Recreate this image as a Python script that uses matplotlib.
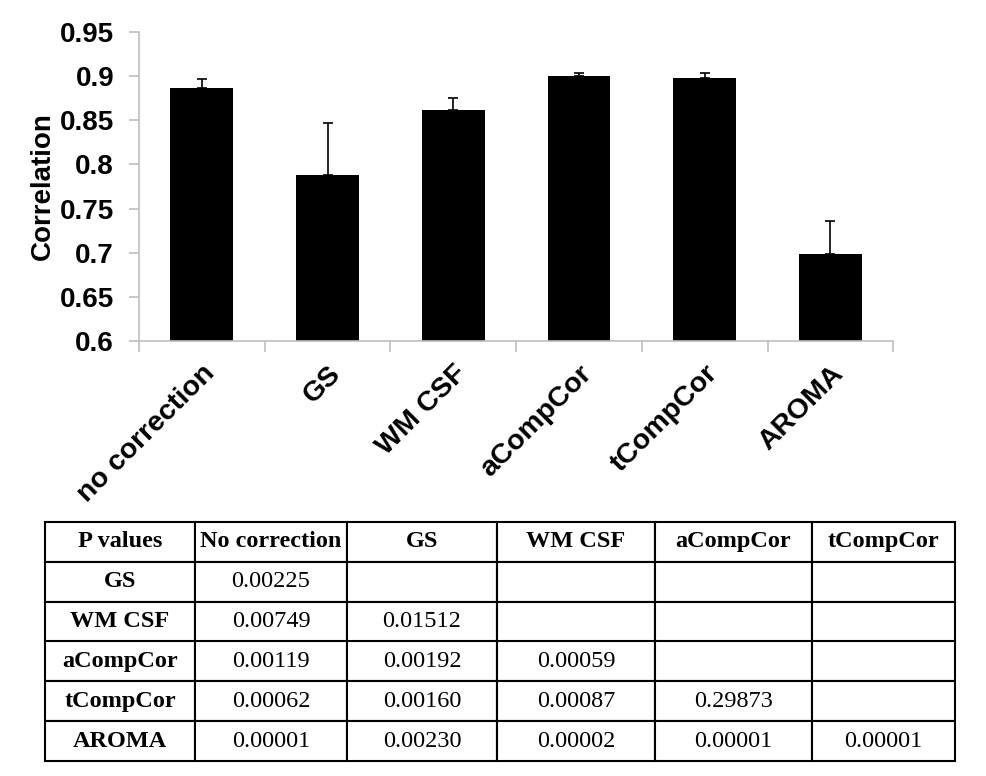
import matplotlib
matplotlib.use('Agg')
import matplotlib.pyplot as plt
import numpy as np

# Mean correlation for each denoising strategy
methods = ["no correction", "GS", "WM CSF", "aCompCor", "tCompCor", "AROMA"]
correlation = [0.8865, 0.7885, 0.862, 0.9005, 0.898, 0.699]
error_up = [0.0098, 0.0585, 0.0128, 0.003, 0.0052, 0.0368]

# P value table
col_labels = ["P values", "No correction", "GS", "WM CSF", "aCompCor", "tCompCor"]
row_labels = ["GS", "WM CSF", "aCompCor", "tCompCor", "AROMA"]
p_values = [
    ["0.00225", "", "", "", ""],
    ["0.00749", "0.01512", "", "", ""],
    ["0.00119", "0.00192", "0.00059", "", ""],
    ["0.00062", "0.00160", "0.00087", "0.29873", ""],
    ["0.00001", "0.00230", "0.00002", "0.00001", "0.00001"],
]

plt.rcParams['font.family'] = ['Liberation Sans', 'DejaVu Sans']

fig = plt.figure(figsize=(9.86, 7.76), dpi=100)
ax = fig.add_axes([0.141, 0.5606, 0.765, 0.3982])

x = np.arange(len(methods))
ax.bar(x, correlation, width=0.5, color='black', zorder=2)
ax.errorbar(x, correlation, yerr=[np.zeros(len(x)), error_up], fmt='none',
            ecolor='black', elinewidth=1.2, capsize=3.6, capthick=1.2, zorder=3)

ax.set_ylim(0.6, 0.95)
ax.set_xlim(-0.5, len(methods) - 0.5)
ax.set_yticks(np.arange(0.6, 0.951, 0.05))
ax.set_yticklabels(["0.6", "0.65", "0.7", "0.75", "0.8", "0.85", "0.9", "0.95"],
                   fontsize=20, fontweight='bold')
ax.set_ylabel("Correlation", fontsize=20, fontweight='bold', labelpad=3)

ax.set_xticks(x)
ax.set_xticklabels(methods, rotation=45, ha='right', rotation_mode='anchor',
                   fontsize=20.5, fontweight='bold')
ax.set_xticks(np.arange(-0.5, len(methods), 1), minor=True)
ax.tick_params(axis='x', which='major', length=0, pad=14)
ax.tick_params(axis='x', which='minor', length=8, color='#bfbfbf', width=1.2)
ax.tick_params(axis='y', length=7, color='#bfbfbf', width=1.2, pad=11)

for side in ['top', 'right']:
    ax.spines[side].set_visible(False)
for side in ['left', 'bottom']:
    ax.spines[side].set_color('#bfbfbf')
    ax.spines[side].set_linewidth(1.2)

# table below the chart
tax = fig.add_axes([45 / 986, 1 - 761 / 776, 910 / 986, 239 / 776])
tax.axis('off')
cells = [col_labels] + [[r] + vals for r, vals in zip(row_labels, p_values)]
tbl = tax.table(cellText=cells, cellLoc='center', bbox=[0, 0, 1, 1],
                colWidths=[150, 152, 150, 158, 157, 143])
tbl.auto_set_font_size(False)
for (r, c), cell in tbl.get_celld().items():
    cell.set_linewidth(1.5)
    cell.set_edgecolor('black')
    bold = (r == 0 or c == 0)
    cell.get_text().set_fontfamily(['Liberation Serif', 'DejaVu Serif'])
    cell.get_text().set_fontsize(17.5)
    cell.get_text().set_fontweight('bold' if bold else 'normal')

fig.savefig('out.png', dpi=100)
